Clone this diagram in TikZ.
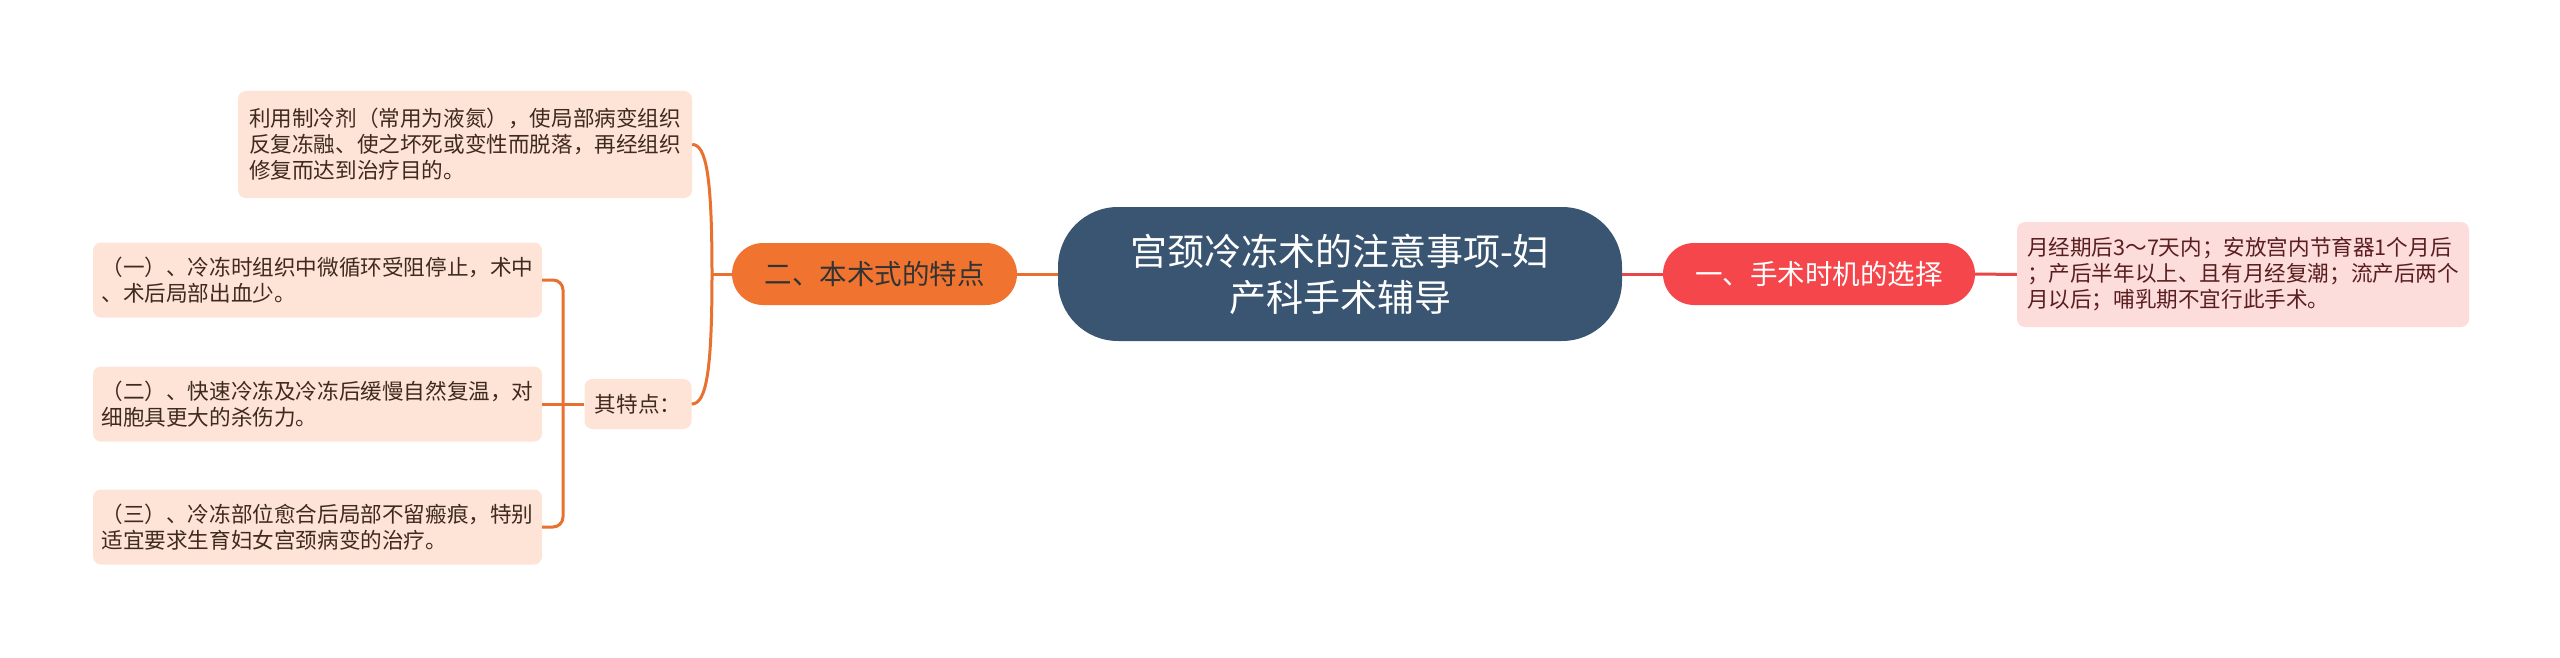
\documentclass[tikz,border=0pt]{standalone}
\usepackage{fontspec}
\newfontfamily\cjk{Noto Sans CJK SC}
\definecolor{cdark}{HTML}{3A5571}
\definecolor{cred}{HTML}{F5474B}
\definecolor{corange}{HTML}{F07430}
\definecolor{lineorange}{HTML}{E9712F}
\definecolor{linered}{HTML}{E8474A}
\definecolor{leafpeach}{HTML}{FDE4D7}
\definecolor{leafpink}{HTML}{FDDCDC}
\definecolor{textbrown}{HTML}{3F2A1E}
\definecolor{textred}{HTML}{5A1E1E}
\tikzset{
  rootbox/.style={fill=cdark, text=white, rounded corners=60pt, minimum width=564pt, minimum height=134pt, align=center, inner sep=0pt, font=\cjk\fontsize{37}{46}\selectfont},
  branchbox/.style={rounded corners=31pt, minimum height=62pt, inner sep=0pt, align=center, font=\cjk\fontsize{27.5}{32}\selectfont},
  leafbox/.style={rounded corners=8pt, inner sep=0pt, align=left, font=\cjk\fontsize{21.6}{26}\selectfont},
  peachleaf/.style={leafbox, fill=leafpeach, text=textbrown},
  pinkleaf/.style={leafbox, fill=leafpink, text=textred},
  lo/.style={draw=lineorange, line width=3pt},
  lr/.style={draw=linered, line width=3pt}
}
\begin{document}
\begin{tikzpicture}[x=1pt,y=-1pt]
\useasboundingbox[fill=white] (0,0) rectangle (2560,658);
% nodes
\node[rootbox] (c) at (1340,274) {宫颈冷冻术的注意事项-妇\\产科手术辅导};
\node[branchbox, fill=cred, text=white, minimum width=312pt] (br) at (1819,274) {一、手术时机的选择};
\node[pinkleaf, minimum width=452pt, minimum height=105pt] (rl) at (2243,274.5) {月经期后3～7天内；安放宫内节育器1个月后\\；产后半年以上、且有月经复潮；流产后两个\\月以后；哺乳期不宜行此手术。};
\node[branchbox, fill=corange, text=black!80, minimum width=285pt] (bl) at (874.5,274) {二、本术式的特点};
\node[peachleaf, minimum width=454pt, minimum height=107pt] (l1) at (465,144.5) {利用制冷剂（常用为液氮），使局部病变组织\\反复冻融、使之坏死或变性而脱落，再经组织\\修复而达到治疗目的。};
\node[peachleaf, minimum width=107pt, minimum height=50pt] (q) at (638,404) {其特点：};
\node[peachleaf, minimum width=449pt, minimum height=75pt] (s1) at (317.5,280) {（一）、冷冻时组织中微循环受阻停止，术中\\、术后局部出血少。};
\node[peachleaf, minimum width=449pt, minimum height=75pt] (s2) at (317.5,404) {（二）、快速冷冻及冷冻后缓慢自然复温，对\\细胞具更大的杀伤力。};
\node[peachleaf, minimum width=449pt, minimum height=75pt] (s3) at (317.5,527) {（三）、冷冻部位愈合后局部不留瘢痕，特别\\适宜要求生育妇女宫颈病变的治疗。};
% connectors
\draw[lr] (c.east) -- (br.west);
\draw[lr] (br.east) -- (rl.west);
\draw[lo] (c.west) -- (bl.east);
\coordinate (lj) at (712,274);
\draw[lo] (bl.west) -- (lj);
\draw[lo] (lj) .. controls (712,175) and (706,144.5) .. (l1.east);
\draw[lo] (lj) .. controls (712,373) and (706,404) .. (q.east);
\coordinate (bk) at (563,404);
\draw[lo, rounded corners=10pt] (s1.east) -| (bk) |- (s3.east);
\draw[lo] (s2.east) -- (q.west);
\end{tikzpicture}
\end{document}
